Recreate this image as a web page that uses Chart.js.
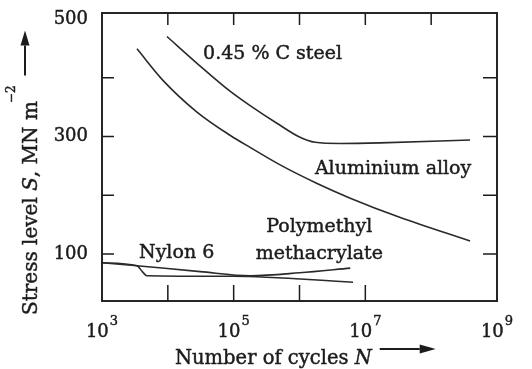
<!DOCTYPE html>
<html>
<head>
<meta charset="utf-8">
<script src="https://cdn.jsdelivr.net/npm/chart.js@4/dist/chart.umd.min.js"></script>
<style>
  html, body { margin: 0; padding: 0; background: #ffffff; }
  #c { display: block; }
</style>
</head>
<body>
<canvas id="c" width="532" height="369" style="width:532px;height:369px"></canvas>
<script>
// ---- axis ticks ----
const xTickValues = [1e3, 1e5, 1e7, 1e9];
const xTickExponents = ['3', '5', '7', '9'];
const xTopTicks = [1e4, 1e5, 1e6, 1e7, 1e8];
const xBottomTicks = [1e4, 1e5, 1e6, 1e7];
const yTickValues = [100, 300, 500];
const yMinorTicks = [100, 200, 300, 400];

// ---- series (N cycles, stress S in MN m^-2) ----
const steelN = [9.7e3, 2.8e4, 8.8e4, 1.8e5, 4.6e5, 1.0e6, 1.73e6, 4.1e6, 1.68e7, 3.9e8];
const steelS = [470, 424, 377, 352, 322, 299, 290, 288, 289, 294];
const aluN = [3.4e3, 8.5e3, 2.8e4, 8.8e4, 1.8e5, 5.6e5, 1.85e6, 5.9e6, 3.4e7, 3.9e8];
const aluS = [449, 395, 341, 302, 281, 249, 220, 195, 162, 122];
const pmmaN = [1e3, 3.4e3, 3.1e4, 1.8e5, 1.0e6, 5.9e6];
const pmmaS = [85, 80, 70, 63, 68, 76];
const nylonN = [1e3, 3.4e3, 4.1e3, 4.8e3, 9.8e4, 6.5e6];
const nylonS = [85, 80, 70, 63, 62, 52];

// ---- curve labels ----
const labelTexts = ['0.45 % C steel', 'Aluminium alloy', 'Polymethyl', 'methacrylate', 'Nylon 6'];
const labelN = [3.9e5, 2.64e7, 2.0e6, 2.0e6, 1.36e4];
const labelS = [431, 236, 137, 91, 94];

const SERIF = '"DejaVu Serif", "Liberation Serif", serif';
const INK = '#1c1c1c';

function series(N, S) {
  return {
    data: N.map((n, i) => ({ x: n, y: S[i] })),
    showLine: true,
    borderColor: '#2a2a2a',
    borderWidth: 1.6,
    pointRadius: 0,
    cubicInterpolationMode: 'monotone',
    fill: false
  };
}

function arrow(ctx, x0, y0, x1, y1, head, halfW) {
  const ang = Math.atan2(y1 - y0, x1 - x0);
  const bx = x1 - head * Math.cos(ang), by = y1 - head * Math.sin(ang);
  ctx.beginPath();
  ctx.moveTo(x0, y0); ctx.lineTo(bx, by); ctx.stroke();
  ctx.beginPath();
  ctx.moveTo(x1, y1);
  ctx.lineTo(bx + halfW * Math.sin(ang), by - halfW * Math.cos(ang));
  ctx.lineTo(bx - halfW * Math.sin(ang), by + halfW * Math.cos(ang));
  ctx.closePath(); ctx.fill();
}

// filled text with a hairline stroke to mimic the heavier printed type
function inkText(ctx, t, x, y) {
  ctx.fillText(t, x, y);
  ctx.lineWidth = 0.45;
  ctx.strokeText(t, x, y);
}

const decor = {
  id: 'decor',
  afterDatasetsDraw(chart) {
    const { ctx, chartArea: a, scales: { x, y } } = chart;
    ctx.save();
    ctx.strokeStyle = INK; ctx.fillStyle = INK;
    // frame
    ctx.lineWidth = 1.9;
    ctx.strokeRect(a.left, a.top, a.right - a.left, a.bottom - a.top);
    // inward tick marks
    ctx.lineWidth = 1.5;
    ctx.beginPath();
    yMinorTicks.forEach(v => {
      const py = y.getPixelForValue(v);
      ctx.moveTo(a.left, py); ctx.lineTo(a.left + 12, py);
      ctx.moveTo(a.right, py); ctx.lineTo(a.right - 14, py);
    });
    xTopTicks.forEach(v => {
      const px = x.getPixelForValue(v);
      ctx.moveTo(px, a.top); ctx.lineTo(px, a.top + 12);
    });
    xBottomTicks.forEach(v => {
      const px = x.getPixelForValue(v);
      ctx.moveTo(px, a.bottom); ctx.lineTo(px, a.bottom - 16);
    });
    ctx.stroke();

    // y tick labels
    ctx.font = '18px ' + SERIF;
    ctx.textAlign = 'right'; ctx.textBaseline = 'middle';
    yTickValues.forEach(v => inkText(ctx, String(v), a.left - 14, y.getPixelForValue(v)));

    // curve labels
    ctx.font = '19px ' + SERIF;
    ctx.textAlign = 'center'; ctx.textBaseline = 'alphabetic';
    labelTexts.forEach((t, i) => inkText(ctx, t, x.getPixelForValue(labelN[i]), y.getPixelForValue(labelS[i])));

    // x tick labels 10^n
    ctx.textAlign = 'left';
    xTickValues.forEach((v, i) => {
      const px = x.getPixelForValue(v);
      ctx.font = '18px ' + SERIF;
      const w1 = ctx.measureText('10').width;
      ctx.font = '13px ' + SERIF;
      const w2 = ctx.measureText(xTickExponents[i]).width;
      const start = px - (w1 + w2 + 1) / 2;
      const base = a.bottom + 36;
      ctx.font = '18px ' + SERIF;
      inkText(ctx, '10', start, base);
      ctx.font = '13px ' + SERIF;
      inkText(ctx, xTickExponents[i], start + w1 + 1, base - 12);
    });

    // x axis title
    const tx = a.left + 73, tb = a.bottom + 63;
    ctx.font = '19.5px ' + SERIF;
    inkText(ctx, 'Number of cycles ', tx, tb);
    let w = ctx.measureText('Number of cycles ').width;
    ctx.font = 'italic 19.5px ' + SERIF;
    inkText(ctx, 'N', tx + w, tb);
    w += ctx.measureText('N').width;
    ctx.lineWidth = 2;
    arrow(ctx, tx + w + 8, tb - 15, tx + w + 64, tb - 15, 16, 4.5);

    // y axis title (rotated)
    ctx.save();
    ctx.translate(37, a.bottom + 14);
    ctx.rotate(-Math.PI / 2);
    let p = 0;
    const parts = [['Stress level ', ''], ['S', 'italic '], [', MN m', '']];
    parts.forEach(([t, st]) => {
      ctx.font = st + '20px ' + SERIF;
      inkText(ctx, t, p, 0);
      p += ctx.measureText(t).width;
    });
    ctx.font = '12px ' + SERIF;
    inkText(ctx, '\u22122', p - 2, -22);
    p += ctx.measureText('\u22122').width;
    ctx.lineWidth = 2;
    arrow(ctx, p + 8, -12, p + 53, -12, 15, 4.5);
    ctx.restore();

    ctx.restore();
  }
};

new Chart(document.getElementById('c'), {
  type: 'scatter',
  data: {
    datasets: [
      series(steelN, steelS),
      series(aluN, aluS),
      series(pmmaN, pmmaS),
      series(nylonN, nylonS)
    ]
  },
  options: {
    responsive: false,
    animation: false,
    devicePixelRatio: 1,
    layout: { padding: { top: 13, right: 35, left: 0, bottom: 0 } },
    plugins: { legend: { display: false }, tooltip: { enabled: false } },
    scales: {
      x: {
        type: 'logarithmic', min: 1e3, max: 1e9, position: 'bottom',
        grid: { display: false, drawTicks: false },
        border: { display: false },
        ticks: { display: false },
        afterFit(s) { s.height = 68; }
      },
      y: {
        type: 'linear', min: 20, max: 510, position: 'left',
        grid: { display: false, drawTicks: false },
        border: { display: false },
        ticks: { display: false },
        afterFit(s) { s.width = 102; }
      }
    }
  },
  plugins: [decor]
});
</script>
</body>
</html>
